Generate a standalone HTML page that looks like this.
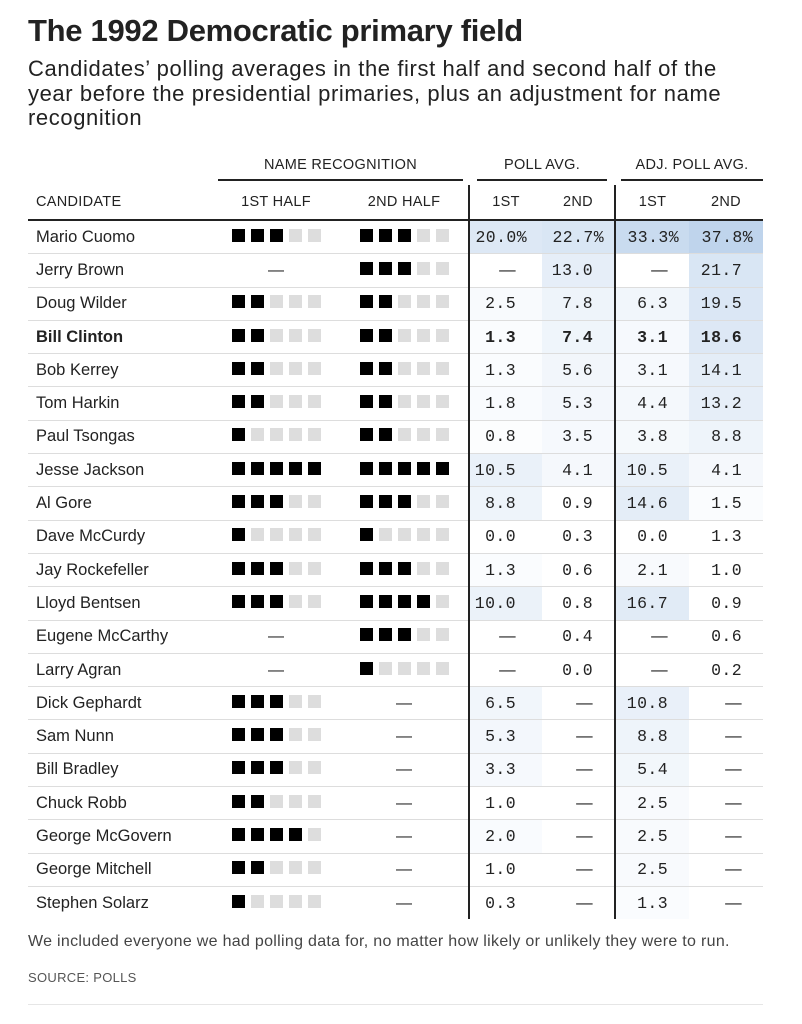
<!DOCTYPE html>
<html><head><meta charset="utf-8">
<style>
body{margin:0;background:#fff;font-family:"Liberation Sans",sans-serif;color:#222;width:802px;height:1024px;overflow:hidden;position:relative}
h1{position:absolute;left:28px;top:13px;margin:0;font-size:31px;font-weight:bold;letter-spacing:-0.3px;color:#222}
.sub{position:absolute;left:28px;top:57px;width:712px;font-size:22px;letter-spacing:0.6px;line-height:24.5px;color:#222}
table{position:absolute;left:28px;top:153px;border-collapse:collapse;table-layout:fixed;width:735px}
td,th{padding:0;font-weight:normal}
.grp th{height:32px;font-size:14.5px;vertical-align:middle;text-align:center;letter-spacing:0.3px}
.grp .u{border-bottom:2px solid #222}
.hd th{height:34px;font-size:14.5px;text-align:center;vertical-align:middle;border-bottom:2px solid #222;letter-spacing:0.3px}
.hd th.c{text-align:left;padding-left:8px}
tr.r td{height:32.3px;border-bottom:1px solid #ddd;font-size:16.5px;vertical-align:middle}
td.n{padding-left:8px;white-space:nowrap}
td.sq{text-align:center;font-size:0}
td.sq i{display:inline-block;width:13px;height:13px;margin:0 3px;background:#ddd}
td.sq i.b{background:#000}
td.sq span{font-size:16px}
td.v{text-align:right;padding-right:21px;font-family:"Liberation Mono",monospace;font-size:14px;letter-spacing:0.4px}
td.v1{padding-right:26px}
.vl{border-left:2px solid #222}
.d{font-family:"Liberation Sans",sans-serif}
.pc{margin-right:-11px}
tr.bold td.n,tr.bold td.v{font-weight:bold}
.note{position:absolute;left:28px;top:933px;font-size:16px;letter-spacing:0.3px;color:#444}
.src{position:absolute;left:28px;top:970px;font-size:13px;color:#555;letter-spacing:0.3px}
.bl{position:absolute;left:28px;top:1004px;width:735px;border-top:1px solid #e6e6e6}
</style></head><body>
<h1>The 1992 Democratic primary field</h1>
<div class="sub">Candidates’ polling averages in the first half and second half of the year before the presidential primaries, plus an adjustment for name recognition</div>
<table>
<colgroup><col style="width:184px"><col style="width:128px"><col style="width:129px"><col style="width:73px"><col style="width:73px"><col style="width:74px"><col style="width:74px"></colgroup>
<tr class="grp"><th></th><th colspan="2"><div class="u" style="margin:0 6px 0 6px;padding-bottom:6px">NAME RECOGNITION</div></th><th colspan="2"><div class="u" style="margin:0 8px 0 8px;padding-bottom:6px">POLL AVG.</div></th><th colspan="2"><div class="u" style="margin:0 0 0 6px;padding-bottom:6px">ADJ. POLL AVG.</div></th></tr>
<tr class="hd"><th class="c">CANDIDATE</th><th>1ST HALF</th><th>2ND HALF</th><th class="vl">1ST</th><th>2ND</th><th class="vl">1ST</th><th>2ND</th></tr>

<tr class="r"><td class="n">Mario Cuomo</td><td class="sq"><i class="b"></i><i class="b"></i><i class="b"></i><i></i><i></i></td><td class="sq"><i class="b"></i><i class="b"></i><i class="b"></i><i></i><i></i></td><td class="v v1 vl" style="background:#dde8f5">20.0<span class="pc">%</span></td><td class="v" style="background:#d9e6f4">22.7<span class="pc">%</span></td><td class="v vl" style="background:#c9dbef">33.3<span class="pc">%</span></td><td class="v" style="background:#bfd4ec">37.8<span class="pc">%</span></td></tr>
<tr class="r"><td class="n">Jerry Brown</td><td class="sq"><span>—</span></td><td class="sq"><i class="b"></i><i class="b"></i><i class="b"></i><i></i><i></i></td><td class="v v1 vl"><span class="d">—</span></td><td class="v" style="background:#e6eef8">13.0</td><td class="v vl"><span class="d">—</span></td><td class="v" style="background:#d9e6f4">21.7</td></tr>
<tr class="r"><td class="n">Doug Wilder</td><td class="sq"><i class="b"></i><i class="b"></i><i></i><i></i><i></i></td><td class="sq"><i class="b"></i><i class="b"></i><i></i><i></i><i></i></td><td class="v v1 vl" style="background:#f8fafd">2.5</td><td class="v" style="background:#eef4fa">7.8</td><td class="v vl" style="background:#f1f6fb">6.3</td><td class="v" style="background:#dbe7f5">19.5</td></tr>
<tr class="r bold"><td class="n">Bill Clinton</td><td class="sq"><i class="b"></i><i class="b"></i><i></i><i></i><i></i></td><td class="sq"><i class="b"></i><i class="b"></i><i></i><i></i><i></i></td><td class="v v1 vl" style="background:#fafcfe">1.3</td><td class="v" style="background:#eff5fb">7.4</td><td class="v vl" style="background:#f6f9fd">3.1</td><td class="v" style="background:#dde8f5">18.6</td></tr>
<tr class="r"><td class="n">Bob Kerrey</td><td class="sq"><i class="b"></i><i class="b"></i><i></i><i></i><i></i></td><td class="sq"><i class="b"></i><i class="b"></i><i></i><i></i><i></i></td><td class="v v1 vl" style="background:#fafcfe">1.3</td><td class="v" style="background:#f2f6fb">5.6</td><td class="v vl" style="background:#f6f9fd">3.1</td><td class="v" style="background:#e4edf7">14.1</td></tr>
<tr class="r"><td class="n">Tom Harkin</td><td class="sq"><i class="b"></i><i class="b"></i><i></i><i></i><i></i></td><td class="sq"><i class="b"></i><i class="b"></i><i></i><i></i><i></i></td><td class="v v1 vl" style="background:#f9fbfe">1.8</td><td class="v" style="background:#f3f7fc">5.3</td><td class="v vl" style="background:#f4f8fc">4.4</td><td class="v" style="background:#e6eef8">13.2</td></tr>
<tr class="r"><td class="n">Paul Tsongas</td><td class="sq"><i class="b"></i><i></i><i></i><i></i><i></i></td><td class="sq"><i class="b"></i><i class="b"></i><i></i><i></i><i></i></td><td class="v v1 vl" style="background:#fcfdfe">0.8</td><td class="v" style="background:#f6f9fd">3.5</td><td class="v vl" style="background:#f5f9fc">3.8</td><td class="v" style="background:#eef4fa">8.8</td></tr>
<tr class="r"><td class="n">Jesse Jackson</td><td class="sq"><i class="b"></i><i class="b"></i><i class="b"></i><i class="b"></i><i class="b"></i></td><td class="sq"><i class="b"></i><i class="b"></i><i class="b"></i><i class="b"></i><i class="b"></i></td><td class="v v1 vl" style="background:#eaf1f9">10.5</td><td class="v" style="background:#f5f8fc">4.1</td><td class="v vl" style="background:#eaf1f9">10.5</td><td class="v" style="background:#f5f8fc">4.1</td></tr>
<tr class="r"><td class="n">Al Gore</td><td class="sq"><i class="b"></i><i class="b"></i><i class="b"></i><i></i><i></i></td><td class="sq"><i class="b"></i><i class="b"></i><i class="b"></i><i></i><i></i></td><td class="v v1 vl" style="background:#eef4fa">8.8</td><td class="v">0.9</td><td class="v vl" style="background:#e4edf7">14.6</td><td class="v" style="background:#fafcfe">1.5</td></tr>
<tr class="r"><td class="n">Dave McCurdy</td><td class="sq"><i class="b"></i><i></i><i></i><i></i><i></i></td><td class="sq"><i class="b"></i><i></i><i></i><i></i><i></i></td><td class="v v1 vl">0.0</td><td class="v">0.3</td><td class="v vl">0.0</td><td class="v">1.3</td></tr>
<tr class="r"><td class="n">Jay Rockefeller</td><td class="sq"><i class="b"></i><i class="b"></i><i class="b"></i><i></i><i></i></td><td class="sq"><i class="b"></i><i class="b"></i><i class="b"></i><i></i><i></i></td><td class="v v1 vl" style="background:#fafcfe">1.3</td><td class="v">0.6</td><td class="v vl" style="background:#f8fafd">2.1</td><td class="v">1.0</td></tr>
<tr class="r"><td class="n">Lloyd Bentsen</td><td class="sq"><i class="b"></i><i class="b"></i><i class="b"></i><i></i><i></i></td><td class="sq"><i class="b"></i><i class="b"></i><i class="b"></i><i class="b"></i><i></i></td><td class="v v1 vl" style="background:#ebf2f9">10.0</td><td class="v">0.8</td><td class="v vl" style="background:#e1ebf6">16.7</td><td class="v">0.9</td></tr>
<tr class="r"><td class="n">Eugene McCarthy</td><td class="sq"><span>—</span></td><td class="sq"><i class="b"></i><i class="b"></i><i class="b"></i><i></i><i></i></td><td class="v v1 vl"><span class="d">—</span></td><td class="v">0.4</td><td class="v vl"><span class="d">—</span></td><td class="v">0.6</td></tr>
<tr class="r"><td class="n">Larry Agran</td><td class="sq"><span>—</span></td><td class="sq"><i class="b"></i><i></i><i></i><i></i><i></i></td><td class="v v1 vl"><span class="d">—</span></td><td class="v">0.0</td><td class="v vl"><span class="d">—</span></td><td class="v">0.2</td></tr>
<tr class="r"><td class="n">Dick Gephardt</td><td class="sq"><i class="b"></i><i class="b"></i><i class="b"></i><i></i><i></i></td><td class="sq"><span>—</span></td><td class="v v1 vl" style="background:#f1f6fb">6.5</td><td class="v"><span class="d">—</span></td><td class="v vl" style="background:#e9f0f9">10.8</td><td class="v"><span class="d">—</span></td></tr>
<tr class="r"><td class="n">Sam Nunn</td><td class="sq"><i class="b"></i><i class="b"></i><i class="b"></i><i></i><i></i></td><td class="sq"><span>—</span></td><td class="v v1 vl" style="background:#f3f7fc">5.3</td><td class="v"><span class="d">—</span></td><td class="v vl" style="background:#eef4fa">8.8</td><td class="v"><span class="d">—</span></td></tr>
<tr class="r"><td class="n">Bill Bradley</td><td class="sq"><i class="b"></i><i class="b"></i><i class="b"></i><i></i><i></i></td><td class="sq"><span>—</span></td><td class="v v1 vl" style="background:#f6f9fd">3.3</td><td class="v"><span class="d">—</span></td><td class="v vl" style="background:#f2f7fb">5.4</td><td class="v"><span class="d">—</span></td></tr>
<tr class="r"><td class="n">Chuck Robb</td><td class="sq"><i class="b"></i><i class="b"></i><i></i><i></i><i></i></td><td class="sq"><span>—</span></td><td class="v v1 vl">1.0</td><td class="v"><span class="d">—</span></td><td class="v vl" style="background:#f8fafd">2.5</td><td class="v"><span class="d">—</span></td></tr>
<tr class="r"><td class="n">George McGovern</td><td class="sq"><i class="b"></i><i class="b"></i><i class="b"></i><i class="b"></i><i></i></td><td class="sq"><span>—</span></td><td class="v v1 vl" style="background:#f9fbfe">2.0</td><td class="v"><span class="d">—</span></td><td class="v vl" style="background:#f8fafd">2.5</td><td class="v"><span class="d">—</span></td></tr>
<tr class="r"><td class="n">George Mitchell</td><td class="sq"><i class="b"></i><i class="b"></i><i></i><i></i><i></i></td><td class="sq"><span>—</span></td><td class="v v1 vl">1.0</td><td class="v"><span class="d">—</span></td><td class="v vl" style="background:#f8fafd">2.5</td><td class="v"><span class="d">—</span></td></tr>
<tr class="r"><td class="n" style="border-bottom:none">Stephen Solarz</td><td class="sq" style="border-bottom:none"><i class="b"></i><i></i><i></i><i></i><i></i></td><td class="sq" style="border-bottom:none"><span>—</span></td><td class="v v1 vl" style="border-bottom:none">0.3</td><td class="v" style="border-bottom:none"><span class="d">—</span></td><td class="v vl" style="background:#fafcfe;border-bottom:none">1.3</td><td class="v" style="border-bottom:none"><span class="d">—</span></td></tr>
</table>
<div class="note">We included everyone we had polling data for, no matter how likely or unlikely they were to run.</div>
<div class="src">SOURCE: POLLS</div>
<div class="bl"></div>
</body></html>
